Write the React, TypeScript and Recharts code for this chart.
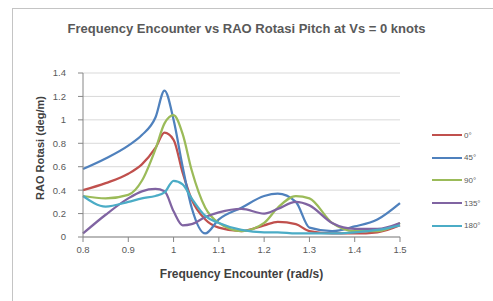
import { LineChart, Line, XAxis, YAxis, CartesianGrid } from "recharts"

// frekuensi encounter (rad/s)
const freq = [0.8, 0.85, 0.9, 0.93, 0.96, 0.98, 1.0, 1.02, 1.04, 1.07, 1.1, 1.15, 1.2, 1.23, 1.27, 1.3, 1.35, 1.4, 1.45, 1.5]

// RAO rotasi pitch per heading
const rao0 = [0.4, 0.46, 0.54, 0.62, 0.76, 0.89, 0.83, 0.55, 0.32, 0.15, 0.08, 0.05, 0.1, 0.13, 0.11, 0.05, 0.03, 0.03, 0.04, 0.1]
const rao45 = [0.58, 0.67, 0.78, 0.87, 1.02, 1.25, 1.0, 0.6, 0.25, 0.03, 0.15, 0.25, 0.35, 0.37, 0.3, 0.08, 0.05, 0.09, 0.15, 0.29]
const rao90 = [0.35, 0.33, 0.36, 0.48, 0.75, 0.97, 1.04, 0.88, 0.57, 0.25, 0.12, 0.05, 0.12, 0.25, 0.35, 0.33, 0.12, 0.05, 0.05, 0.12]
const rao135 = [0.03, 0.19, 0.33, 0.39, 0.41, 0.39, 0.22, 0.1, 0.11, 0.17, 0.21, 0.24, 0.2, 0.24, 0.3, 0.27, 0.12, 0.07, 0.07, 0.12]
const rao180 = [0.35, 0.26, 0.3, 0.33, 0.35, 0.38, 0.48, 0.45, 0.33, 0.18, 0.12, 0.06, 0.04, 0.04, 0.03, 0.03, 0.03, 0.04, 0.06, 0.1]

const xTicks = [0.8, 0.9, 1.0, 1.1, 1.2, 1.3, 1.4, 1.5]
const yTicks = [0, 0.2, 0.4, 0.6, 0.8, 1.0, 1.2, 1.4]

const series = [
  { key: "0°", values: rao0, color: "#C0504D" },
  { key: "45°", values: rao45, color: "#4F81BD" },
  { key: "90°", values: rao90, color: "#9BBB59" },
  { key: "135°", values: rao135, color: "#8064A2" },
  { key: "180°", values: rao180, color: "#4BACC6" },
]

const data = freq.map((f, i) => {
  const row: Record<string, number> = { f }
  series.forEach((s) => {
    row[s.key] = s.values[i]
  })
  return row
})

const fmt = (v: number) => String(Math.round(v * 10) / 10)
const font = "Liberation Sans, Arial, sans-serif"

export default function App() {
  return (
    <div style={{ position: "fixed", left: 0, top: 0, width: 493, height: 301, background: "#fff", overflow: "hidden" }}>
      {/* bingkai area grafik */}
      <div
        style={{
          position: "absolute",
          left: 12,
          top: 8,
          width: 500,
          height: 310,
          border: "1px solid #c4c4c4",
          boxSizing: "border-box",
        }}
      />
      <div
        style={{
          position: "absolute",
          left: 0,
          top: 21,
          width: 493,
          textAlign: "center",
          fontFamily: font,
          fontWeight: "bold",
          fontSize: 13,
          color: "#595959",
        }}
      >
        Frequency Encounter vs RAO Rotasi Pitch at Vs = 0 knots
      </div>
      <div
        style={{
          position: "absolute",
          left: 83,
          width: 317,
          top: 267,
          textAlign: "center",
          fontFamily: font,
          fontWeight: "bold",
          fontSize: 12,
          color: "#404040",
        }}
      >
        Frequency Encounter (rad/s)
      </div>
      <div
        style={{
          position: "absolute",
          left: 40,
          top: 148,
          transform: "translate(-50%, -50%) rotate(-90deg)",
          whiteSpace: "nowrap",
          fontFamily: font,
          fontWeight: "bold",
          fontSize: 11,
          color: "#404040",
        }}
      >
        RAO Rotasi (deg/m)
      </div>
      {/* legenda */}
      <div style={{ position: "absolute", left: 432, top: 124, fontFamily: font, fontSize: 8, color: "#595959" }}>
        {series.map((s) => (
          <div key={s.key} style={{ display: "flex", alignItems: "center", height: 22.6 }}>
            <div style={{ width: 30, height: 2, background: s.color, marginRight: 2 }} />
            <span>{s.key}</span>
          </div>
        ))}
      </div>
      <div style={{ position: "absolute", left: 0, top: 0 }}>
        <LineChart width={493} height={301} data={data} margin={{ top: 73, right: 93, bottom: 34, left: 0 }}>
          <CartesianGrid vertical={false} stroke="#d9d9d9" />
          <XAxis
            dataKey="f"
            type="number"
            domain={[0.8, 1.5]}
            ticks={xTicks}
            tickFormatter={fmt}
            stroke="#868686"
            tickSize={5}
            tickMargin={4}
            height={30}
            tick={{ fontSize: 9.5, fill: "#595959", fontFamily: font }}
          />
          <YAxis
            type="number"
            domain={[0, 1.4]}
            ticks={yTicks}
            tickFormatter={fmt}
            width={83}
            stroke="#868686"
            tickSize={5}
            tickMargin={12}
            tick={{ fontSize: 9.5, fill: "#595959", fontFamily: font }}
          />
          {series.map((s) => (
            <Line
              key={s.key}
              type="monotone"
              dataKey={s.key}
              stroke={s.color}
              strokeWidth={2.25}
              dot={false}
              isAnimationActive={false}
            />
          ))}
        </LineChart>
      </div>
    </div>
  )
}
